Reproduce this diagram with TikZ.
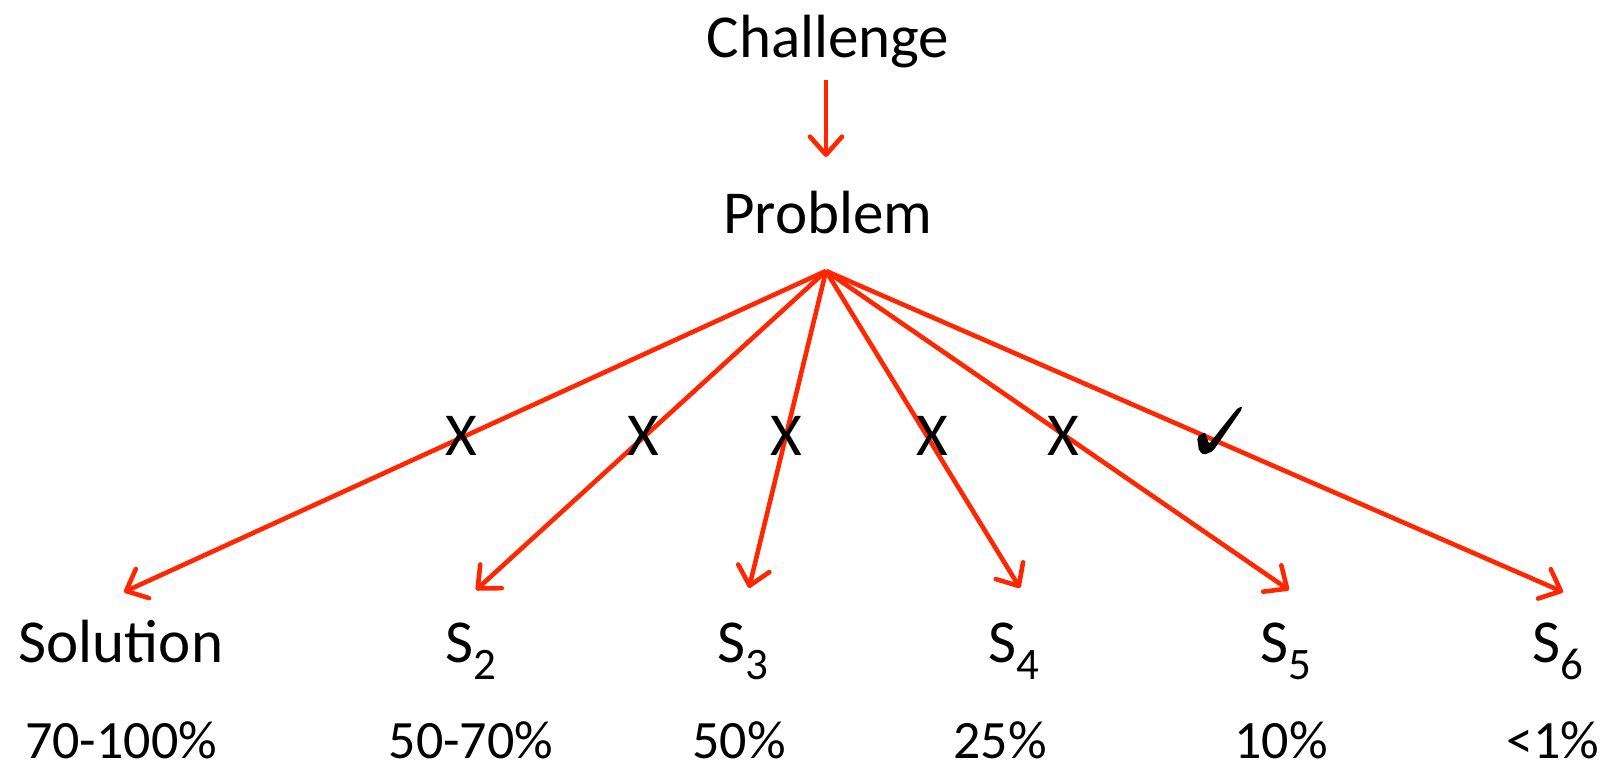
\documentclass[tikz,border=0pt]{standalone}
\usepackage{fontspec}
\setmainfont{Carlito}
\usetikzlibrary{arrows.meta}
\definecolor{arrred}{RGB}{255,38,0}
\newcommand{\mysub}[1]{\raisebox{-17pt}{\fontsize{45}{45}\selectfont #1}}
\tikzset{
  lbl/.style={inner sep=0pt, anchor=base, font=\fontsize{61}{70}\selectfont},
  pct/.style={inner sep=0pt, anchor=base, text depth=0pt, font=\fontsize{54}{60}\selectfont},
  conn/.style={draw=arrred, line width=4.6pt, -{Straight Barb[length=18pt,width=32pt,round]}}
}
\begin{document}
\begin{tikzpicture}[x=1pt,y=-1pt]
\useasboundingbox (0,0) rectangle (1623,769);
\node[lbl] (ch) at (828,57) {Challenge};
\node[lbl] (pr) at (828,233) {Problem};
\coordinate (c1) at (826,80);
\coordinate (c2) at (826,157);
\draw[conn] (c1) -- (c2);
\coordinate (apex) at (826,271);
\coordinate (t1) at (124,592);
\coordinate (t2) at (476,590);
\coordinate (t3) at (749,588);
\coordinate (t4) at (1020,588);
\coordinate (t5) at (1289,590);
\coordinate (t6) at (1563,592);
\foreach \i in {1,...,6} { \draw[conn] (apex) -- (t\i); }
\node[lbl] (x1) at (461,455) {X};
\node[lbl] (x2) at (643,455) {X};
\node[lbl] (x3) at (786,455) {X};
\node[lbl] (x4) at (932,455) {X};
\node[lbl] (x5) at (1063,455) {X};
\fill[black, rounded corners=2pt] (1197,437) -- (1205,432) -- (1209,444) -- (1236,410) .. controls (1239,407) and (1242,407) .. (1242,409) -- (1213,451) -- (1204,455) -- (1199,451) -- cycle;
\node[lbl] (s1) at (121,662) {Solution};
\node[lbl] (s2) at (471,662) {S\mysub{2}};
\node[lbl] (s3) at (743,662) {S\mysub{3}};
\node[lbl] (s4) at (1014,662) {S\mysub{4}};
\node[lbl] (s5) at (1286,662) {S\mysub{5}};
\node[lbl] (s6) at (1558,662) {S\mysub{6}};
\node[pct] (p1) at (121,758) {70-100\%};
\node[pct] (p2) at (471,758) {50-70\%};
\node[pct] (p3) at (739,758) {50\%};
\node[pct] (p4) at (1000,758) {25\%};
\node[pct] (p5) at (1281,758) {10\%};
\node[pct] (p6) at (1553,758) {<1\%};
\end{tikzpicture}
\end{document}
